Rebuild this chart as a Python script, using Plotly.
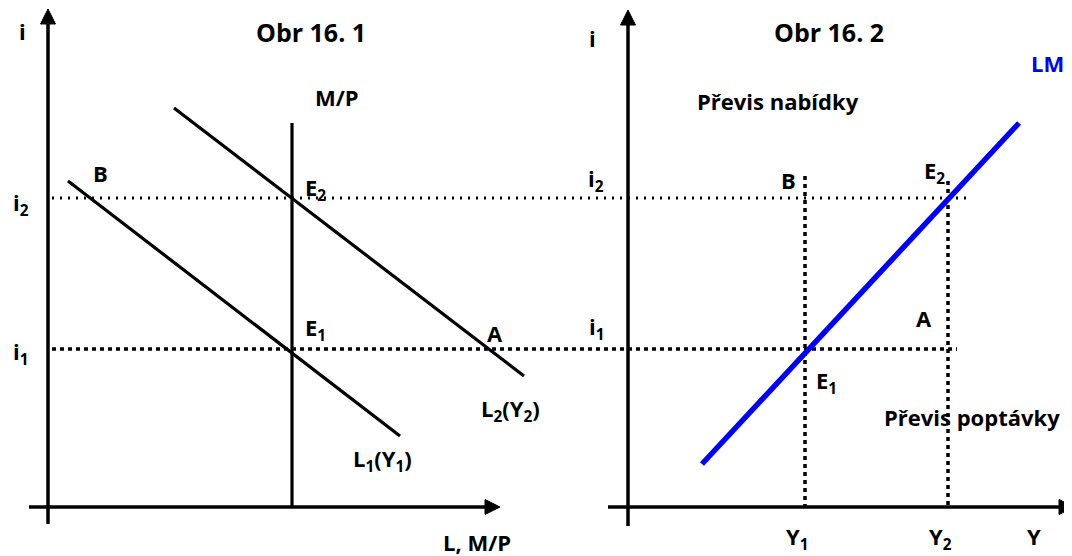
import plotly.graph_objects as go

W, H = 1072, 556
PAGE_MARGIN = 8  # default body margin of the html page

# ---------------- data (diagram coordinates, y grows downward) ----------------
# Panel 1 – money market (Obr 16. 1)
p1_yaxis_x = [48, 48]
p1_yaxis_y = [524, 22]
p1_xaxis_x = [29, 487]
p1_xaxis_y = [507, 507]
p1_arrow_up = (48, 9)        # tip of i-axis arrow
p1_arrow_right = (500, 507)  # tip of L-axis arrow

mp_x = [292, 292]
mp_y = [123, 507]
l1_x = [68, 400]
l1_y = [181, 436]
l2_x = [174, 524]
l2_y = [108, 376]

# Panel 2 – LM curve (Obr 16. 2)
p2_yaxis_x = [628, 628]
p2_yaxis_y = [526, 23]
p2_xaxis_x = [608, 1060]
p2_xaxis_y = [507, 507]
p2_arrow_up = (628, 10)
p2_arrow_right = (1074, 507)

lm_x = [702, 1019]
lm_y = [464, 123]

# guide lines
i2_x = [52, 972]
i2_y = [198, 198]
i1_x = [52, 957]
i1_y = [349, 349]
y1_x = [805, 805]
y1_y = [176, 507]
y2_x = [948, 948]
y2_y = [181, 507]

# labels: text, x, y
label_text = ["i", "i<sub>2</sub>", "i<sub>1</sub>", "M/P", "B", "E<sub>2</sub>", "E<sub>1</sub>", "A",
              "L<sub>2</sub>(Y<sub>2</sub>)", "L<sub>1</sub>(Y<sub>1</sub>)", "L, M/P",
              "i", "Převis nabídky", "i<sub>2</sub>", "B", "E<sub>2</sub>", "i<sub>1</sub>", "A",
              "E<sub>1</sub>", "Převis poptávky", "Y<sub>1</sub>", "Y<sub>2</sub>", "Y"]
label_x = [22, 21, 21, 337, 100, 315, 315, 495,
           510, 382, 477,
           592, 778, 596, 788, 934, 597, 924,
           826, 972, 797, 940, 1034]
label_y = [31, 204, 353, 97, 173, 189, 329, 333,
           410, 460, 542,
           38, 101, 180, 180, 172, 328, 318,
           382, 417, 538, 538, 536]
titles = ["Obr 16. 1", "Obr 16. 2"]
title_x = [311, 829]
title_y = [32, 32]
lm_label = ("LM", 1047, 63)

# ---------------- figure ----------------
BLACK = "#000000"
BLUE = "#0000FF"
FONT = "Open Sans"

fig = go.Figure()


def line(x, y, color=BLACK, width=3.2, dash=None):
    fig.add_trace(go.Scatter(x=x, y=y, mode="lines", hoverinfo="skip", showlegend=False,
                             line=dict(color=color, width=width, dash=dash)))


def arrow(tip, direction, size=15, half=7.5):
    tx, ty = tip
    if direction == "up":
        xs = [tx - half, tx, tx + half, tx - half]
        ys = [ty + size, ty, ty + size, ty + size]
    else:
        xs = [tx - size, tx, tx - size, tx - size]
        ys = [ty - half, ty, ty + half, ty - half]
    fig.add_trace(go.Scatter(x=xs, y=ys, mode="lines", fill="toself", fillcolor=BLACK,
                             line=dict(color=BLACK, width=1), hoverinfo="skip", showlegend=False))


# dotted guides
line(i2_x, i2_y, width=3, dash="2px,6px")
line(i1_x, i1_y, width=3.5, dash="4px,4px")
line(y1_x, y1_y, width=3.5, dash="4px,4px")
line(y2_x, y2_y, width=3.5, dash="4px,4px")

# axes
line(p1_yaxis_x, p1_yaxis_y, width=3.5)
line(p1_xaxis_x, p1_xaxis_y, width=3.5)
arrow(p1_arrow_up, "up")
arrow(p1_arrow_right, "right")
line(p2_yaxis_x, p2_yaxis_y, width=3.5)
line(p2_xaxis_x, p2_xaxis_y, width=3.5)
arrow(p2_arrow_up, "up")
arrow(p2_arrow_right, "right")

# curves
line(mp_x, mp_y)
line(l1_x, l1_y)
line(l2_x, l2_y)
line(lm_x, lm_y, color=BLUE, width=5.5)

annotations = []
for t, x, y in zip(label_text, label_x, label_y):
    annotations.append(dict(text=t, x=x, y=y, xref="x", yref="y", showarrow=False,
                            xanchor="center", yanchor="middle",
                            font=dict(family=FONT, size=22, color=BLACK, weight="bold")))
for t, x, y in zip(titles, title_x, title_y):
    annotations.append(dict(text=t, x=x, y=y, xref="x", yref="y", showarrow=False,
                            xanchor="center", yanchor="middle",
                            font=dict(family=FONT, size=25, color=BLACK, weight="bold")))
annotations.append(dict(text=lm_label[0], x=lm_label[1], y=lm_label[2], xref="x", yref="y",
                        showarrow=False, xanchor="center", yanchor="middle",
                        font=dict(family=FONT, size=22, color=BLUE, weight="bold")))

fig.update_layout(
    width=W - PAGE_MARGIN, height=H - PAGE_MARGIN,
    margin=dict(l=0, r=0, t=0, b=0),
    paper_bgcolor="white", plot_bgcolor="white",
    xaxis=dict(range=[PAGE_MARGIN, W], visible=False, fixedrange=True),
    yaxis=dict(range=[H, PAGE_MARGIN], visible=False, fixedrange=True),
    annotations=annotations,
    showlegend=False,
)

fig.write_html("out.html")
